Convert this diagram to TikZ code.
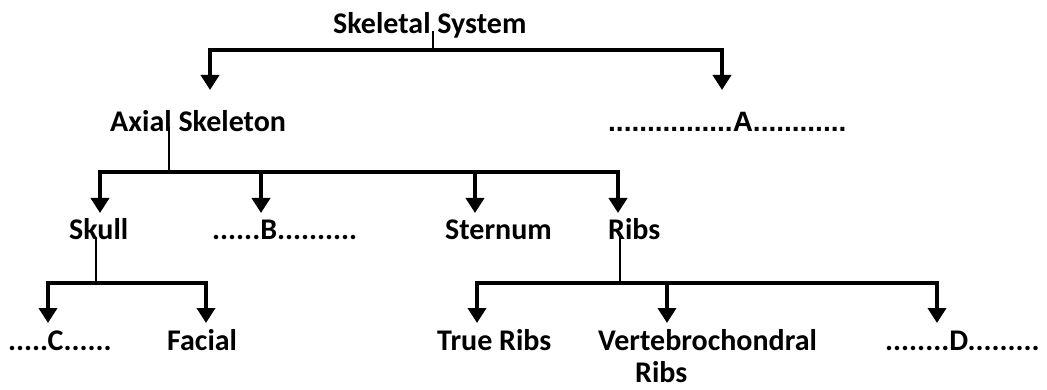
\documentclass[tikz,border=0pt]{standalone}
\usepackage{fontspec}
\setmainfont{Carlito}
\newfontfamily\arialfont{Liberation Sans}
\usetikzlibrary{arrows.meta}

\begin{document}
\begin{tikzpicture}[x=1pt, y=-1pt,
  lbl/.style={anchor=base west, inner sep=0pt, font=\fontsize{30}{35}\selectfont\bfseries},
  blankA/.style={lbl, font=\arialfont\fontsize{28}{33}\selectfont\bfseries},
  stem/.style={line width=2.2pt},
  arr/.style={line width=4pt, -{Triangle[width=18pt, length=15pt]}}]
  \useasboundingbox (0,0) rectangle (1047,390);

  \node[lbl] (sys) at (333,34) {Skeletal System};
  \node[lbl] (axial) at (110,132) {Axial Skeleton};
  \node[blankA] (boneA) at (608,132) {................A............};
  \node[lbl] (skull) at (69,240) {Skull};
  \node[lbl] (boneB) at (212,240) {......B..........};
  \node[lbl] (sternum) at (445,240) {Sternum};
  \node[lbl] (ribs) at (608,240) {Ribs};
  \node[lbl] (boneC) at (8,350) {.....C......};
  \node[lbl] (facial) at (167,350) {Facial};
  \node[lbl] (trueribs) at (437,350) {True Ribs};
  \node[lbl, align=left] (vertebro) at (598,382) {Vertebrochondral\\[-3pt]\hspace*{37pt}Ribs};
  \node[lbl] (boneD) at (885,350) {........D.........};

  \coordinate (jSys) at (433,50);
  \coordinate (jAxial) at (169,172);
  \coordinate (jSkull) at (96,283);
  \coordinate (jRibs) at (620,283);

  \coordinate (toAxial) at (210,90);
  \coordinate (toA) at (722,90);
  \coordinate (toSkull) at (100,213);
  \coordinate (toB) at (261,213);
  \coordinate (toSternum) at (475,213);
  \coordinate (toRibs) at (618,213);
  \coordinate (toC) at (48,323);
  \coordinate (toFacial) at (206,323);
  \coordinate (toTrue) at (477,323);
  \coordinate (toVertebro) at (667,323);
  \coordinate (toD) at (937,323);

  \draw[stem] ([yshift=3pt]sys.base -| jSys) -- (jSys);
  \draw[arr] (jSys) -| (toAxial);
  \draw[arr] (jSys) -| (toA);

  \draw[stem] ([yshift=5pt]axial.base -| jAxial) -- (jAxial);
  \foreach \t in {toSkull, toB, toSternum, toRibs}
    \draw[arr] (jAxial) -| (\t);

  \draw[stem] ([yshift=3pt]skull.base -| jSkull) -- (jSkull);
  \draw[arr] (jSkull) -| (toC);
  \draw[arr] (jSkull) -| (toFacial);

  \draw[stem] ([yshift=3pt]ribs.base -| jRibs) -- (jRibs);
  \foreach \t in {toTrue, toVertebro, toD}
    \draw[arr] (jRibs) -| (\t);
\end{tikzpicture}
\end{document}
